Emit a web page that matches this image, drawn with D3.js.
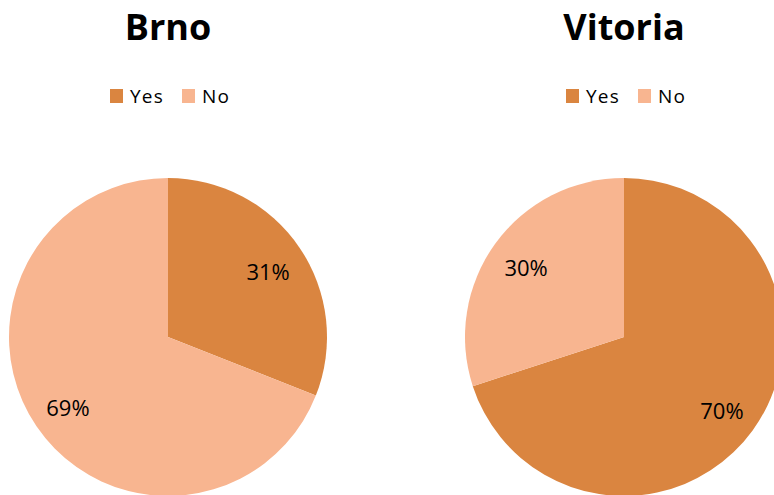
<!DOCTYPE html>
<html lang="en">
<head>
  <meta charset="UTF-8">
  <title>Brno / Vitoria</title>
  <style>
    body { margin: 0; background: #fff; }
    svg { display: block; }
    text { font-family: "Open Sans", Arial, sans-serif; fill: #000; }
  </style>
</head>
<body>

<svg width="774" height="495"></svg>

<script src="https://d3js.org/d3.v7.min.js"></script>
<script>

// Chart data
let cities = ["Brno", "Vitoria"];
let categories = ["Yes", "No"];
let yesValues = [31, 70];
let noValues = [69, 30];
let colors = ["#da8540", "#f8b590"];

let width = 774, height = 495;
let svg = d3.select("svg").attr("viewBox", "0 0 " + width + " " + height);

let color = d3.scaleOrdinal().domain(categories).range(colors);

// one horizontal slot per city
let xPos = d3.scalePoint().domain(cities).range([168, 624]);

let radius = 159, cy = 337, labelRadius = 121;

let pie = d3.pie().sort(null).value(d => d.value);
let arc = d3.arc().innerRadius(0).outerRadius(radius);
let labelArc = d3.arc().innerRadius(labelRadius).outerRadius(labelRadius);

cities.forEach((city, i) => {
  let cx = xPos(city);
  let slices = categories.map((c, j) => ({
    cat: c,
    value: j == 0 ? yesValues[i] : noValues[i]
  }));

  // title
  svg.append("text")
      .attr("x", cx)
      .attr("y", 40)
      .attr("text-anchor", "middle")
      .style("font-size", "36px")
      .style("font-weight", "bold")
      .text(city);

  // legend
  let leg = svg.append("g").attr("transform", "translate(" + (cx - 58) + ",89)");
  let offsets = [0, 72];
  categories.forEach((c, j) => {
    leg.append("rect")
        .attr("x", offsets[j])
        .attr("y", 0)
        .attr("width", 13)
        .attr("height", 14)
        .attr("fill", color(c));
    leg.append("text")
        .attr("x", offsets[j] + 20)
        .attr("y", 14)
        .style("font-size", "19px")
        .style("letter-spacing", "1.2px")
        .text(c);
  });

  // pie
  let g = svg.append("g").attr("transform", "translate(" + cx + "," + cy + ")");
  let arcs = pie(slices);

  g.selectAll("path")
    .data(arcs)
    .enter()
    .append("path")
      .attr("d", arc)
      .attr("fill", d => color(d.data.cat));

  g.selectAll("text")
    .data(arcs)
    .enter()
    .append("text")
      .attr("transform", d => "translate(" + labelArc.centroid(d) + ")")
      .attr("text-anchor", "middle")
      .attr("dy", "0.48em")
      .style("font-size", "22px")
      .text(d => d.data.value + "%");
});

</script>

</body>
</html>
